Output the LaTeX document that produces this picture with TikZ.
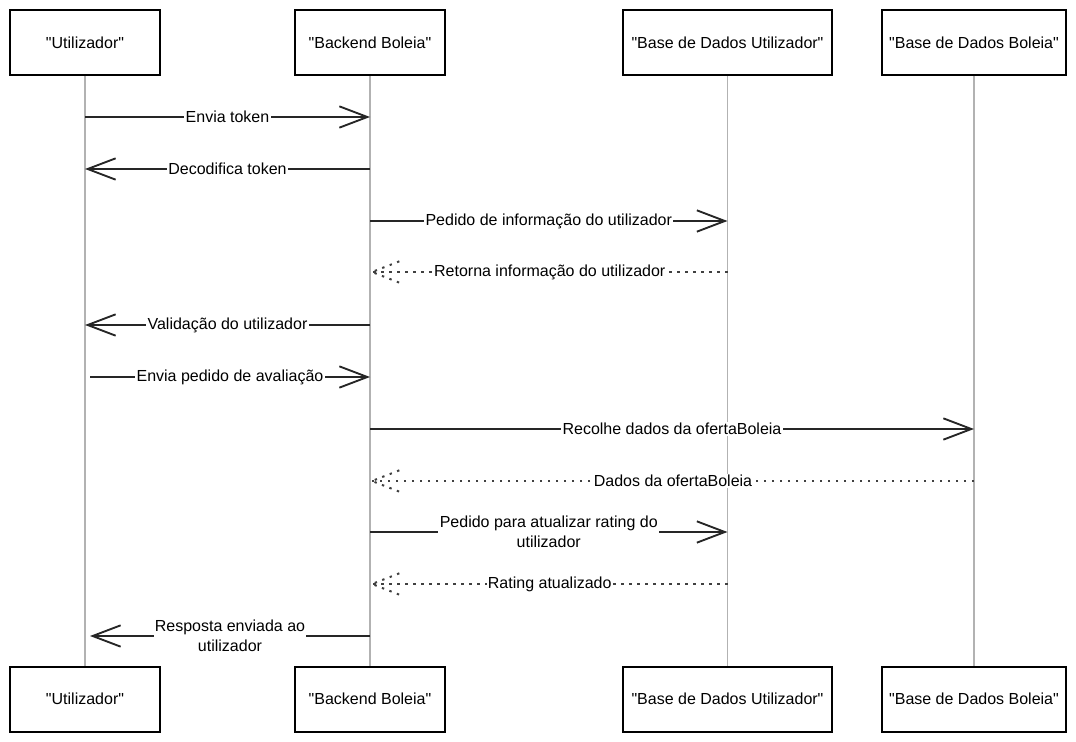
\documentclass[tikz,border=0pt]{standalone}
\usepackage{fontspec}
\setmainfont{Liberation Sans}
\usetikzlibrary{arrows.meta}
\begin{document}
\begin{tikzpicture}[x=0.75pt,y=-0.75pt,
    actor/.style={draw=black, line width=1.5pt, fill=white, minimum height=48.75pt, font=\fontsize{12}{14}\selectfont},
    life/.style={draw=black!30, line width=0.9pt},
    sync/.style={draw=black!85, line width=1.4pt, -{Straight Barb[length=21pt,width=16pt,line width=1.4pt]}},
    reply/.style={draw=black!75, line width=1.5pt, dash pattern=on 1.8pt off 4.2pt},
    lbl/.style={fill=white, inner sep=1pt, font=\fontsize{12}{15}\selectfont, align=center}]
    \useasboundingbox (0,0) rectangle (1076,742);

    % Partecipanti in alto e in basso
    \node[actor, minimum width=112.5pt] (uTop) at (85,42.5) {\textquotedbl Utilizador\textquotedbl};
    \node[actor, minimum width=112.5pt] (bTop) at (370,42.5) {\textquotedbl Backend Boleia\textquotedbl};
    \node[actor, minimum width=156.75pt] (duTop) at (727.5,42.5) {\textquotedbl Base de Dados Utilizador\textquotedbl};
    \node[actor, minimum width=138pt] (dbTop) at (974,42.5) {\textquotedbl Base de Dados Boleia\textquotedbl};
    \node[actor, minimum width=112.5pt] (uBot) at (85,699) {\textquotedbl Utilizador\textquotedbl};
    \node[actor, minimum width=112.5pt] (bBot) at (370,699) {\textquotedbl Backend Boleia\textquotedbl};
    \node[actor, minimum width=156.75pt] (duBot) at (727.5,699) {\textquotedbl Base de Dados Utilizador\textquotedbl};
    \node[actor, minimum width=138pt] (dbBot) at (974,699) {\textquotedbl Base de Dados Boleia\textquotedbl};

    % Linee di vita
    \draw[life] (uTop) -- (uBot);
    \draw[life] (bTop) -- (bBot);
    \draw[life] (duTop) -- (duBot);
    \draw[life] (dbTop) -- (dbBot);

    % Messaggi
    \draw[sync] (uTop |- 0,117) -- node[lbl] {Envia token} (bTop |- 0,117);
    \draw[sync] (bTop |- 0,169) -- node[lbl] {Decodifica token} (uTop |- 0,169);
    \draw[sync] (bTop |- 0,221) -- node[lbl] {Pedido de informação do utilizador} (duTop |- 0,221);
    \draw[reply] (duTop |- 0,272) -- node[lbl] {Retorna informação do utilizador} ([xshift=1.5pt]bTop |- 0,272);
    \draw[sync] (bTop |- 0,325) -- node[lbl] {Validação do utilizador} (uTop |- 0,325);
    \draw[sync] ([xshift=3.75pt]uTop |- 0,377) -- node[lbl] {Envia pedido de avaliação} (bTop |- 0,377);
    \draw[sync] (bTop |- 0,429) -- node[lbl] {Recolhe dados da ofertaBoleia} (dbTop |- 0,429);
    \draw[reply] (dbTop |- 0,481) -- node[lbl] {Dados da ofertaBoleia} ([xshift=1.5pt]bTop |- 0,481);
    \draw[sync] (bTop |- 0,532) -- node[lbl] {Pedido para atualizar rating do\\utilizador} (duTop |- 0,532);
    \draw[reply] (duTop |- 0,584) -- node[lbl] {Rating atualizado} ([xshift=1.5pt]bTop |- 0,584);
    \draw[sync] (bTop |- 0,636) -- node[lbl] {Resposta enviada ao\\utilizador} ([xshift=3.75pt]uTop |- 0,636);

    % Punte tratteggiate delle risposte
    \foreach \y in {272,481,584}
        \draw[reply] ([xshift=22pt,yshift=8pt]bTop |- 0,\y) -- ([xshift=1.5pt]bTop |- 0,\y) -- ([xshift=22pt,yshift=-8pt]bTop |- 0,\y);
\end{tikzpicture}
\end{document}
